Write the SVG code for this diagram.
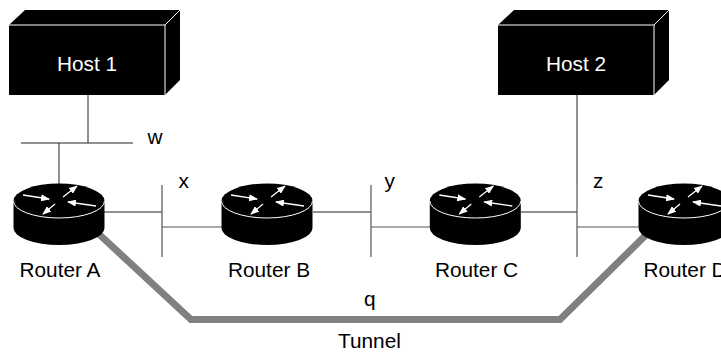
<svg xmlns="http://www.w3.org/2000/svg" width="721" height="352" viewBox="0 0 721 352">
<style>
text{font-family:"Liberation Sans",Arial,sans-serif;font-size:20.800px;fill:#000}
.hl{fill:#fff;text-anchor:middle}
.mid{text-anchor:middle}
.ln{stroke:#222;stroke-width:1;fill:none}
.bar{stroke:#555;stroke-width:1.200;fill:none}
.tun{stroke:#808080;stroke-width:7;fill:none;stroke-linejoin:miter}
.edge{stroke:#fff;stroke-width:1;fill:none}
.arr{stroke:#fff;stroke-width:1.300;fill:none;marker-end:url(#ah)}
</style>
<defs>
<marker id="ah" viewBox="0 0 9 7" refX="8" refY="3.500" markerWidth="9" markerHeight="7" markerUnits="userSpaceOnUse" orient="auto"><path d="M0 0L9 3.500L0 7Z" fill="#fff"/></marker>
<g id="router">
<path d="M-45.500 0V27A45.500 17 0 0 0 45.500 27V0Z" fill="#000"/>
<ellipse cx="0" cy="0" rx="45.500" ry="17.500" fill="#000"/>
<path class="edge" d="M-45.500 0A45.500 17 0 0 0 45.500 0"/>
<path class="arr" d="M-36-6L-10-2"/>
<path class="arr" d="M37 5L9 1"/>
<path class="arr" d="M4-4L18-15"/>
<path class="arr" d="M-4 3L-16 13"/>
</g>
<g id="hostbox">
<path d="M0 15L16 0H171V70L156 85H0Z" fill="#000"/>
<path class="edge" d="M0 15H156L171 0M156 15V85"/>
</g>
</defs>
<g id="connectors">
<path class="tun" d="M88 224L191 319.500H560L650 231"/>
<path class="ln" d="M88 95V143M21 143H133M59 143V184"/>
<path class="ln" d="M104 212H162M313 212H371M521 212H577M577 95V185"/>
<path class="bar" d="M162 185V257M162 227H222M371 185V257M371 227H430M577 185V257M577 227H638"/>
</g>
<g id="host1"><use href="#hostbox" x="9" y="10"/><text class="hl" x="87" y="71">Host 1</text></g>
<g id="host2"><use href="#hostbox" x="498" y="10"/><text class="hl" x="576" y="71">Host 2</text></g>
<g id="routerA"><use href="#router" x="59" y="201"/><text class="mid" x="60" y="277">Router A</text></g>
<g id="routerB"><use href="#router" x="267" y="201"/><text class="mid" x="269" y="277">Router B</text></g>
<g id="routerC"><use href="#router" x="475.300" y="201"/><text class="mid" x="476.500" y="277">Router C</text></g>
<g id="routerD"><use href="#router" x="684" y="201"/><text class="mid" x="685" y="277">Router D</text></g>
<g id="labels">
<text x="147.500" y="144">w</text><text x="178.500" y="188">x</text><text x="384.500" y="188">y</text><text x="593" y="188">z</text><text x="364" y="306">q</text><text x="338" y="348">Tunnel</text>
</g>
</svg>
